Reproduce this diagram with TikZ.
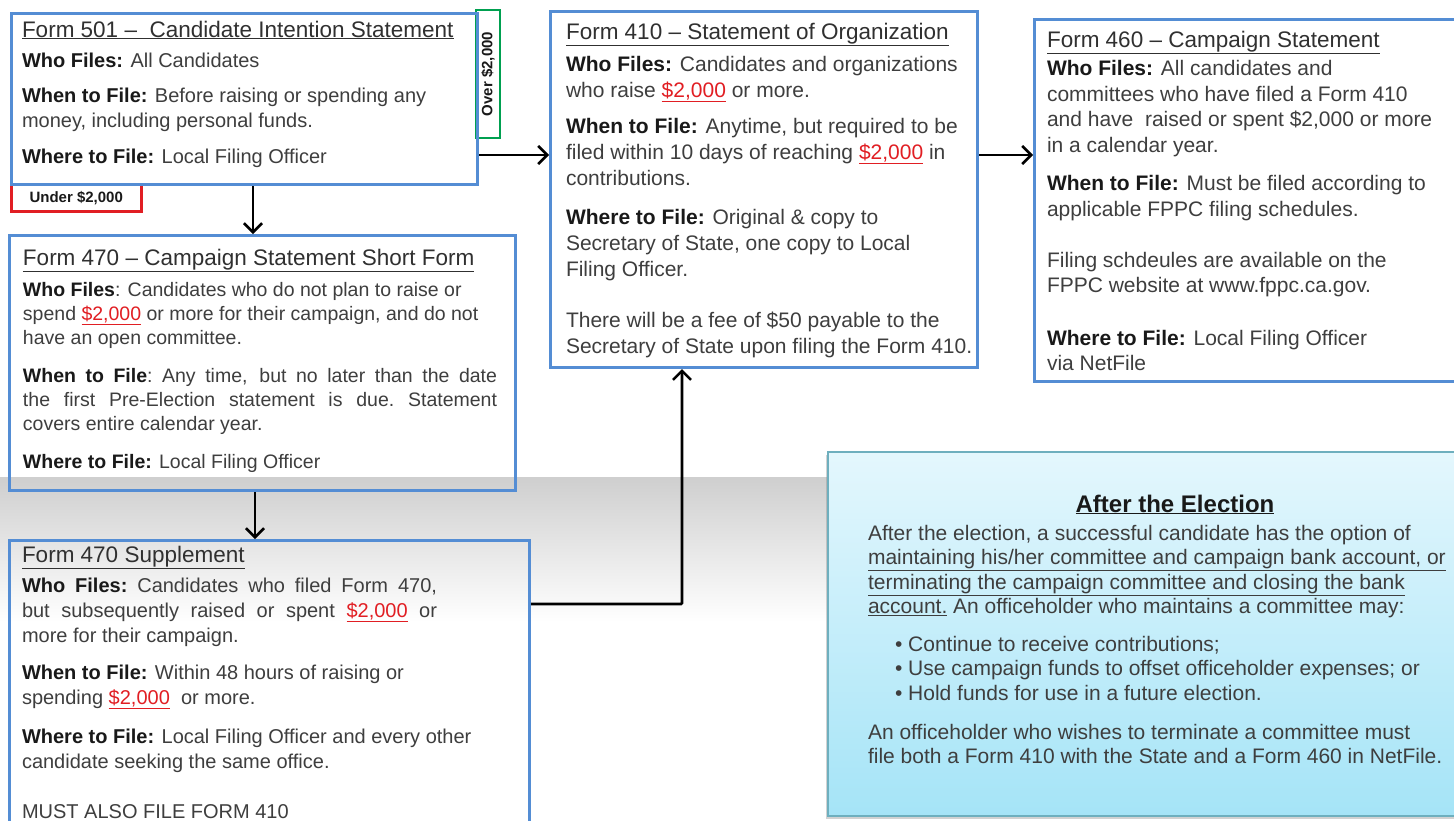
\documentclass[tikz,border=0pt]{standalone}
\usepackage{fontspec}
\setmainfont{Liberation Sans}
\usetikzlibrary{arrows.meta,shadows}
\definecolor{boxblue}{RGB}{84,141,212}
\definecolor{txtgray}{RGB}{62,62,62}
\definecolor{lblblack}{RGB}{25,25,25}
\definecolor{ured}{RGB}{225,30,35}
\definecolor{ogreen}{RGB}{0,160,80}
\definecolor{aftertop}{RGB}{228,247,253}
\definecolor{afterbot}{RGB}{165,228,247}
\definecolor{afterline}{RGB}{110,175,190}
\newcommand\lb[1]{{\bfseries\color{lblblack}#1}}
\newcommand\amt{\textcolor{ured}{\underline{\$2,000}}}
\newcommand\ttl[1]{{\fontsize{22.5}{25}\selectfont\color{lblblack!90}\underline{#1}}}
\newcommand\natsp{\spaceskip=0pt\relax\xspaceskip=0pt\relax}
\newcommand\jline[2]{\leavevmode\hbox to #1{\spaceskip=0pt plus 1fil\relax\xspaceskip=0pt plus 1fil\relax #2}}
\tikzset{
  formbox/.style={draw=boxblue, line width=3pt, rectangle, inner sep=0pt, anchor=north west},
  bodytext/.style={anchor=base west, inner sep=0pt, outer sep=0pt, align=left, text=txtgray},
  arr/.style={-{Straight Barb[length=9pt,width=18pt,line width=2.6pt]}, line width=2.8pt, black},
  tagbox/.style={line width=2.5pt, inner sep=0pt, font=\bfseries\fontsize{15}{15}\selectfont, text=lblblack},
}
\begin{document}
\begin{tikzpicture}[x=1pt,y=-1pt]
\useasboundingbox (0,0) rectangle (1454,820);
\clip (0,0) rectangle (1454,820);
\fill[white] (0,0) rectangle (1454,820);
% grey gradient band
\fill[top color=black!19, bottom color=white] (0,477) rectangle (1454,622);

% tags
\node[tagbox, draw=ogreen, rotate=90, minimum width=128pt, minimum height=24pt] (over) at (488,74) {Over \$2,000};
\node[tagbox, draw=ured, minimum width=130pt, minimum height=27pt, anchor=north west] (under) at (10,183) {Under \$2,000};

% boxes
\node[formbox, minimum width=466pt, minimum height=171pt] (f501) at (10,12) {};
\node[formbox, minimum width=506pt, minimum height=255pt] (f470) at (8,234) {};
\node[formbox, minimum width=520pt, minimum height=300pt] (fsup) at (8,539) {};
\node[formbox, minimum width=427pt, minimum height=356pt] (f410) at (549,10) {};
\node[formbox, minimum width=440pt, minimum height=362pt] (f460) at (1033,18) {};
\node[draw=afterline, line width=1.5pt, top color=aftertop, bottom color=afterbot,
      drop shadow={shadow xshift=-2pt, shadow yshift=-3pt, opacity=0.35},
      minimum width=650pt, minimum height=364pt, anchor=north west, inner sep=0pt] (after) at (827,451) {};

% texts
\node[bodytext, text width=450pt, font={\fontsize{20}{25}\selectfont}] (t501) at (22,37) {\natsp
\ttl{Form 501 –\ \ Candidate Intention Statement}\\[5pt]
\lb{Who Files:} All Candidates\\[10pt]
\lb{When to File:} Before raising or spending any\\
money, including personal funds.\\[11pt]
\lb{Where to File:} Local Filing Officer};

\node[bodytext, text width=480pt, font={\fontsize{19.5}{24}\selectfont}] (t470) at (23,265) {\natsp
\ttl{Form 470 – Campaign Statement Short Form}\\[7pt]
\lb{Who Files}: Candidates who do not plan to raise or\\
spend \amt{} or more for their campaign, and do not\\
have an open committee.\\[14pt]
\jline{474pt}{\lb{When to File}: Any time, but no later than the date}\\
\jline{474pt}{the first Pre-Election statement is due. Statement}\\
covers entire calendar year.\\[14pt]
\lb{Where to File:} Local Filing Officer};

\node[bodytext, text width=490pt, font={\fontsize{20}{25}\selectfont}] (tsup) at (22,562) {\natsp
\ttl{Form 470 Supplement}\\[5pt]
\jline{415pt}{\lb{Who Files:} Candidates who filed Form 470,}\\
\jline{415pt}{but subsequently raised or spent \amt{} or}\\
more for their campaign.\\[12pt]
\lb{When to File:} Within 48 hours of raising or\\
spending \amt\ \ or more.\\[14pt]
\lb{Where to File:} Local Filing Officer and every other\\
candidate seeking the same office.\\[25pt]
MUST ALSO FILE FORM 410};

\node[bodytext, text width=420pt, font={\fontsize{21}{26}\selectfont}] (t410) at (566,39) {\natsp
\ttl{Form 410 – Statement of Organization}\\[6pt]
\lb{Who Files:} Candidates and organizations\\
who raise \amt{} or more.\\[10pt]
\lb{When to File:} Anytime, but required to be\\
filed within 10 days of reaching \amt{} in\\
contributions.\\[13pt]
\lb{Where to File:} Original \& copy to\\
Secretary of State, one copy to Local\\
Filing Officer.\\[25pt]
There will be a fee of \$50 payable to the\\
Secretary of State upon filing the Form 410.};

\node[bodytext, text width=400pt, font={\fontsize{21}{25.5}\selectfont}] (t460) at (1047,47) {\natsp
\ttl{Form 460 – Campaign Statement}\\[3pt]
\lb{Who Files:} All candidates and\\
committees who have filed a Form 410\\
and have\ \ raised or spent \$2,000 or more\\
in a calendar year.\\[13pt]
\lb{When to File:} Must be filed according to\\
applicable FPPC filing schedules.\\[25.5pt]
Filing schdeules are available on the\\
FPPC website at www.fppc.ca.gov.\\[27pt]
\lb{Where to File:} Local Filing Officer\\
via NetFile};

\node[anchor=base, inner sep=0pt, font={\bfseries\fontsize{24}{26}\selectfont}, text=lblblack] (tafter) at (1175,512) {\underline{After the Election}};
\node[bodytext, text width=620pt, font={\fontsize{21}{24.5}\selectfont}] (tafterbody) at (868,540) {\natsp
After the election, a successful candidate has the option of\\
\underline{maintaining his/her committee and campaign bank account, or}\\
\underline{terminating the campaign committee and closing the bank}\\
\underline{account.} An officeholder who maintains a committee may:\\[13pt]
\hspace*{27pt}\textbullet\ Continue to receive contributions;\\
\hspace*{27pt}\textbullet\ Use campaign funds to offset officeholder expenses; or\\
\hspace*{27pt}\textbullet\ Hold funds for use in a future election.\\[14.5pt]
An officeholder who wishes to terminate a committee must\\
file both a Form 410 with the State and a Form 460 in NetFile.};

% connectors
\draw[arr] (f501.south -| 253,0) -- (f470.north -| 253,0);
\draw[arr] (f470.south -| 255,0) -- (fsup.north -| 255,0);
\draw[arr] (f501.east |- 0,155) -- (f410.west |- 0,155);
\draw[arr] (f410.east |- 0,155) -- (f460.west |- 0,155);
\draw[arr, rounded corners=1pt] (fsup.east |- 0,604) -| (f410.south -| 682,0);
\end{tikzpicture}
\end{document}
